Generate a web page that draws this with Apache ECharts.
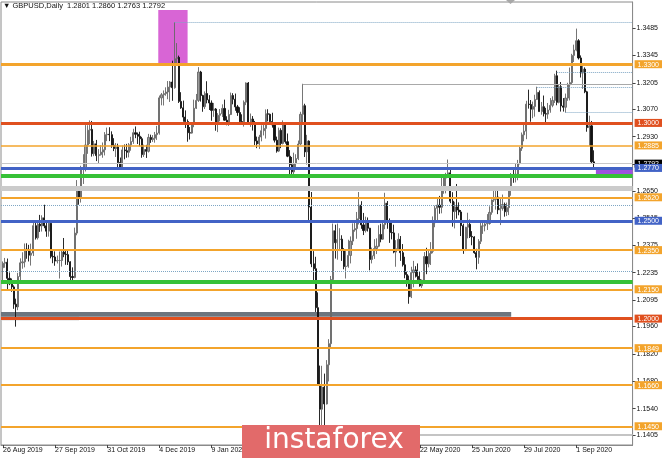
<!DOCTYPE html>
<html>
<head>
<meta charset="utf-8">
<script src="https://cdn.jsdelivr.net/npm/echarts@6/dist/echarts.min.js"></script>
<style>
html,body{margin:0;padding:0;background:#fff;}
#chart{width:665px;height:458px;}
</style>
</head>
<body>
<div id="chart"></div>
<script>
// ---- DATA ----
// Daily GBPUSD bars [open, high, low, close], one row per trading day from 26 Aug 2019 to 11 Sep 2020
const candles = [
// Aug 26-30 2019
[1.2260,1.2292,1.2194,1.2283],[1.2283,1.2310,1.2260,1.2288],[1.2288,1.2307,1.2150,1.2206],[1.2206,1.2236,1.2171,1.2178],[1.2178,1.2205,1.2137,1.2162],
// Sep 2-6
[1.2162,1.2170,1.2050,1.2074],[1.2074,1.2102,1.1959,1.2060],[1.2060,1.2234,1.2043,1.2215],[1.2215,1.2308,1.2195,1.2285],[1.2285,1.2339,1.2255,1.2290],
// Sep 9-13
[1.2290,1.2384,1.2262,1.2355],[1.2355,1.2385,1.2306,1.2353],[1.2353,1.2377,1.2292,1.2324],[1.2324,1.2383,1.2271,1.2335],[1.2335,1.2499,1.2320,1.2475],
// Sep 16-20
[1.2475,1.2496,1.2404,1.2413],[1.2413,1.2502,1.2404,1.2483],[1.2483,1.2530,1.2443,1.2474],[1.2474,1.2528,1.2445,1.2515],[1.2515,1.2582,1.2462,1.2474],
// Sep 23-27
[1.2474,1.2496,1.2418,1.2447],[1.2447,1.2499,1.2419,1.2487],[1.2487,1.2498,1.2308,1.2318],[1.2318,1.2349,1.2283,1.2315],[1.2315,1.2344,1.2270,1.2294],
// Sep 30 - Oct 4
[1.2294,1.2322,1.2282,1.2297],[1.2297,1.2343,1.2205,1.2297],[1.2297,1.2352,1.2266,1.2340],[1.2340,1.2412,1.2314,1.2329],[1.2329,1.2348,1.2275,1.2327],
// Oct 7-11
[1.2327,1.2346,1.2274,1.2290],[1.2290,1.2293,1.2195,1.2215],[1.2215,1.2262,1.2196,1.2210],[1.2210,1.2465,1.2206,1.2437],[1.2437,1.2708,1.2426,1.2668],
// Oct 14-18
[1.2668,1.2674,1.2582,1.2615],[1.2615,1.2781,1.2593,1.2767],[1.2767,1.2840,1.2688,1.2770],[1.2770,1.2989,1.2752,1.2887],[1.2887,1.2988,1.2842,1.2963],
// Oct 21-25
[1.2963,1.3013,1.2892,1.2967],[1.2967,1.3010,1.2828,1.2843],[1.2843,1.2908,1.2830,1.2893],[1.2893,1.2913,1.2805,1.2833],[1.2833,1.2866,1.2795,1.2838],
// Oct 28 - Nov 1
[1.2838,1.2887,1.2833,1.2851],[1.2851,1.2900,1.2822,1.2863],[1.2863,1.2953,1.2834,1.2940],[1.2940,1.2976,1.2907,1.2942],[1.2942,1.2978,1.2907,1.2940],
// Nov 4-8
[1.2940,1.2957,1.2873,1.2886],[1.2886,1.2922,1.2856,1.2869],[1.2869,1.2897,1.2826,1.2877],[1.2877,1.2894,1.2769,1.2798],[1.2798,1.2823,1.2768,1.2773],
// Nov 11-15
[1.2773,1.2885,1.2761,1.2862],[1.2862,1.2890,1.2814,1.2858],[1.2858,1.2893,1.2822,1.2850],[1.2850,1.2897,1.2824,1.2888],[1.2888,1.2929,1.2858,1.2905],
// Nov 18-22
[1.2905,1.2970,1.2893,1.2950],[1.2950,1.2982,1.2922,1.2942],[1.2942,1.2951,1.2892,1.2932],[1.2932,1.2955,1.2880,1.2919],[1.2919,1.2929,1.2822,1.2838],
// Nov 25-29
[1.2838,1.2889,1.2826,1.2864],[1.2864,1.2888,1.2821,1.2855],[1.2855,1.2944,1.2849,1.2926],[1.2926,1.2940,1.2898,1.2915],[1.2915,1.2938,1.2903,1.2922],
// Dec 2-6
[1.2922,1.2954,1.2899,1.2940],[1.2940,1.2985,1.2913,1.2948],[1.2948,1.3140,1.2940,1.3128],[1.3128,1.3153,1.3090,1.3144],[1.3144,1.3166,1.3089,1.3150],
// Dec 9-13
[1.3150,1.3182,1.3139,1.3158],[1.3158,1.3214,1.3121,1.3183],[1.3183,1.3214,1.3107,1.3209],[1.3209,1.3318,1.3113,1.3180],[1.3180,1.3515,1.3175,1.3328],
// Dec 16-20
[1.3328,1.3408,1.3305,1.3335],[1.3335,1.3344,1.3102,1.3110],[1.3110,1.3157,1.3072,1.3077],[1.3077,1.3114,1.3006,1.3030],[1.3030,1.3064,1.2974,1.3007],
// Dec 23, 24, 26, 27
[1.3007,1.3018,1.2904,1.2950],[1.2950,1.2979,1.2915,1.2948],[1.2948,1.3000,1.2945,1.2993],[1.2993,1.3119,1.2978,1.3075],
// Dec 30, 31, Jan 2, 3
[1.3075,1.3148,1.3071,1.3115],[1.3115,1.3285,1.3107,1.3260],[1.3260,1.3266,1.3109,1.3140],[1.3140,1.3144,1.3057,1.3083],
// Jan 6-10 2020
[1.3083,1.3161,1.3071,1.3150],[1.3150,1.3213,1.3100,1.3118],[1.3118,1.3142,1.3066,1.3102],[1.3102,1.3115,1.3011,1.3064],[1.3064,1.3102,1.3031,1.3071],
// Jan 13-17
[1.3071,1.3076,1.2960,1.2992],[1.2992,1.3050,1.2953,1.3039],[1.3039,1.3071,1.3008,1.3047],[1.3047,1.3095,1.3030,1.3074],[1.3074,1.3119,1.3012,1.3014],
// Jan 20-24
[1.3014,1.3034,1.2988,1.3003],[1.3003,1.3067,1.2985,1.3043],[1.3043,1.3155,1.3040,1.3140],[1.3140,1.3152,1.3095,1.3121],[1.3121,1.3150,1.3062,1.3082],
// Jan 27-31
[1.3082,1.3092,1.3036,1.3053],[1.3053,1.3080,1.2993,1.3007],[1.3007,1.3044,1.2993,1.3006],[1.3006,1.3115,1.2981,1.3106],[1.3106,1.3207,1.3091,1.3204],
// Feb 3-7
[1.3204,1.3209,1.2990,1.3000],[1.3000,1.3048,1.2980,1.3020],[1.3020,1.3035,1.2961,1.2997],[1.2997,1.3010,1.2887,1.2908],[1.2908,1.2930,1.2871,1.2893],
// Feb 10-14
[1.2893,1.2939,1.2867,1.2928],[1.2928,1.2988,1.2906,1.2960],[1.2960,1.2992,1.2936,1.2972],[1.2972,1.3069,1.2920,1.3047],[1.3047,1.3070,1.3008,1.3044],
// Feb 17-21
[1.3044,1.3048,1.2994,1.3007],[1.3007,1.3052,1.2976,1.2990],[1.2990,1.2995,1.2900,1.2912],[1.2912,1.2930,1.2848,1.2856],[1.2856,1.2976,1.2851,1.2962],
// Feb 24-28
[1.2962,1.2973,1.2871,1.2895],[1.2895,1.3013,1.2890,1.2997],[1.2997,1.3000,1.2894,1.2904],[1.2904,1.2946,1.2825,1.2830],[1.2830,1.2861,1.2724,1.2786],
// Mar 2-6
[1.2786,1.2826,1.2725,1.2750],[1.2750,1.2848,1.2732,1.2792],[1.2792,1.2840,1.2765,1.2818],[1.2818,1.2910,1.2810,1.2892],[1.2892,1.3057,1.2886,1.3044],
// Mar 9-13
[1.3044,1.3200,1.3000,1.3088],[1.3088,1.3098,1.2826,1.2852],[1.2852,1.2939,1.2787,1.2907],[1.2907,1.2911,1.2502,1.2570],[1.2570,1.2647,1.2263,1.2280],
// Mar 16-20
[1.2280,1.2345,1.2194,1.2255],[1.2255,1.2316,1.2034,1.2056],[1.2056,1.2134,1.1657,1.1663],[1.1663,1.1760,1.1450,1.1537],[1.1537,1.1759,1.1409,1.1650],
// Mar 23-27
[1.1650,1.1719,1.1454,1.1564],[1.1564,1.1788,1.1561,1.1764],[1.1764,1.1895,1.1679,1.1872],[1.1872,1.2218,1.1853,1.2200],[1.2200,1.2486,1.2188,1.2449],
// Mar 30 - Apr 3
[1.2449,1.2480,1.2307,1.2388],[1.2388,1.2486,1.2301,1.2404],[1.2404,1.2462,1.2345,1.2406],[1.2406,1.2426,1.2295,1.2347],[1.2347,1.2360,1.2252,1.2266],
// Apr 6-10
[1.2266,1.2354,1.2205,1.2268],[1.2268,1.2403,1.2260,1.2323],[1.2323,1.2420,1.2282,1.2396],[1.2396,1.2487,1.2376,1.2453],[1.2453,1.2502,1.2444,1.2460],
// Apr 13-17
[1.2460,1.2545,1.2408,1.2510],[1.2510,1.2647,1.2481,1.2580],[1.2580,1.2600,1.2459,1.2479],[1.2479,1.2540,1.2427,1.2450],[1.2450,1.2521,1.2440,1.2493],
// Apr 20-24
[1.2493,1.2517,1.2445,1.2462],[1.2462,1.2464,1.2247,1.2302],[1.2302,1.2363,1.2282,1.2321],[1.2321,1.2406,1.2305,1.2358],[1.2358,1.2410,1.2330,1.2370],
// Apr 27 - May 1
[1.2370,1.2477,1.2365,1.2430],[1.2430,1.2485,1.2390,1.2406],[1.2406,1.2490,1.2402,1.2480],[1.2480,1.2643,1.2457,1.2590],[1.2590,1.2601,1.2459,1.2490],
// May 4-8
[1.2490,1.2512,1.2387,1.2440],[1.2440,1.2499,1.2405,1.2438],[1.2438,1.2480,1.2334,1.2340],[1.2340,1.2401,1.2265,1.2357],[1.2357,1.2436,1.2350,1.2405],
// May 11-15
[1.2405,1.2422,1.2295,1.2337],[1.2337,1.2381,1.2266,1.2275],[1.2275,1.2316,1.2206,1.2225],[1.2225,1.2240,1.2163,1.2196],[1.2196,1.2220,1.2076,1.2112],
// May 18-22
[1.2112,1.2265,1.2105,1.2235],[1.2235,1.2295,1.2160,1.2249],[1.2249,1.2268,1.2210,1.2216],[1.2216,1.2282,1.2177,1.2200],[1.2200,1.2241,1.2163,1.2168],
// May 25-29
[1.2168,1.2200,1.2157,1.2196],[1.2196,1.2340,1.2191,1.2317],[1.2317,1.2362,1.2227,1.2280],[1.2280,1.2352,1.2262,1.2333],[1.2333,1.2391,1.2274,1.2344],
// Jun 1-5
[1.2344,1.2522,1.2334,1.2490],[1.2490,1.2577,1.2467,1.2564],[1.2564,1.2613,1.2503,1.2580],[1.2580,1.2627,1.2536,1.2569],[1.2569,1.2727,1.2538,1.2664],
// Jun 8-12
[1.2664,1.2733,1.2638,1.2718],[1.2718,1.2745,1.2640,1.2733],[1.2733,1.2813,1.2729,1.2745],[1.2745,1.2763,1.2590,1.2600],[1.2600,1.2646,1.2470,1.2547],
// Jun 15-19
[1.2547,1.2597,1.2461,1.2571],[1.2571,1.2688,1.2511,1.2555],[1.2555,1.2594,1.2528,1.2545],[1.2545,1.2555,1.2422,1.2475],[1.2475,1.2485,1.2331,1.2352],
// Jun 22-26
[1.2352,1.2469,1.2345,1.2467],[1.2467,1.2541,1.2410,1.2482],[1.2482,1.2506,1.2412,1.2420],[1.2420,1.2447,1.2375,1.2417],[1.2417,1.2421,1.2331,1.2337],
// Jun 29 - Jul 3
[1.2337,1.2357,1.2252,1.2313],[1.2313,1.2406,1.2280,1.2395],[1.2395,1.2493,1.2381,1.2474],[1.2474,1.2503,1.2433,1.2474],[1.2474,1.2497,1.2446,1.2484],
// Jul 6-10
[1.2484,1.2534,1.2453,1.2486],[1.2486,1.2574,1.2480,1.2543],[1.2543,1.2609,1.2531,1.2606],[1.2606,1.2667,1.2596,1.2609],[1.2609,1.2653,1.2557,1.2621],
// Jul 13-17
[1.2621,1.2667,1.2534,1.2556],[1.2556,1.2614,1.2478,1.2563],[1.2563,1.2634,1.2552,1.2583],[1.2583,1.2593,1.2521,1.2546],[1.2546,1.2593,1.2524,1.2567],
// Jul 20-24
[1.2567,1.2670,1.2529,1.2666],[1.2666,1.2744,1.2628,1.2730],[1.2730,1.2769,1.2694,1.2727],[1.2727,1.2795,1.2696,1.2738],[1.2738,1.2811,1.2707,1.2793],
// Jul 27-31
[1.2793,1.2878,1.2788,1.2871],[1.2871,1.2951,1.2857,1.2939],[1.2939,1.2992,1.2906,1.2958],[1.2958,1.3113,1.2917,1.3096],[1.3096,1.3170,1.3073,1.3094],
// Aug 3-7
[1.3094,1.3117,1.3006,1.3070],[1.3070,1.3109,1.3024,1.3084],[1.3084,1.3144,1.3032,1.3120],[1.3120,1.3185,1.3117,1.3156],[1.3156,1.3166,1.3057,1.3058],
// Aug 10-14
[1.3058,1.3107,1.3042,1.3083],[1.3083,1.3140,1.3033,1.3047],[1.3047,1.3077,1.3004,1.3045],[1.3045,1.3102,1.3021,1.3066],[1.3066,1.3127,1.3052,1.3090],
// Aug 17-21
[1.3090,1.3136,1.3080,1.3115],[1.3115,1.3251,1.3102,1.3241],[1.3241,1.3267,1.3090,1.3105],[1.3105,1.3197,1.3100,1.3185],[1.3185,1.3209,1.3058,1.3087],
// Aug 24-28
[1.3087,1.3127,1.3058,1.3080],[1.3080,1.3150,1.3052,1.3127],[1.3127,1.3205,1.3113,1.3195],[1.3195,1.3283,1.3115,1.3206],[1.3206,1.3353,1.3194,1.3345],
// Aug 31 - Sep 4
[1.3345,1.3400,1.3311,1.3372],[1.3372,1.3482,1.3366,1.3420],[1.3420,1.3428,1.3324,1.3332],[1.3332,1.3345,1.3232,1.3255],[1.3255,1.3306,1.3174,1.3275],
// Sep 7-11
[1.3275,1.3284,1.3152,1.3159],[1.3159,1.3164,1.2955,1.2976],[1.2976,1.3037,1.2883,1.2985],[1.2985,1.3010,1.2790,1.2801],[1.2801,1.2860,1.2763,1.2792]
];

// Time-axis tick labels and the bar index they sit on
const timeLabels = ['26 Aug 2019','27 Sep 2019','31 Oct 2019','4 Dec 2019','9 Jan 2020','12 Feb 2020','17 Mar 2020','20 Apr 2020','22 May 2020','25 Jun 2020','29 Jul 2020','1 Sep 2020'];
const timeLabelBars = [0,24,48,72,96,120,144,168,192,216,240,264];

// Price-axis tick labels
const priceTicks = [1.3485,1.3345,1.3205,1.3070,1.2930,1.2790,1.2650,1.2515,1.2375,1.2235,1.2095,1.1960,1.1820,1.1680,1.1540,1.1405];

// Horizontal levels
const orangeThickLevels = [1.3300];
const orangeLevels = [1.2885,1.2620,1.2350,1.2150,1.1849,1.1660,1.1450];
const redLevels = [1.3000,1.2000];
const blueLevels = [1.2770,1.2500];
const greenLevels = [1.2729,1.2190];
const grayBandLevels = [1.2665];
const dottedLevels = [1.2580,1.2243];
const dottedFromBar = [[79,1.3515],[255,1.3260],[246,1.3184],[259,1.3056]];
const grayFromBar = [[138,1.3200]];
const grayWideFromBar = [[192,1.1405]];
const lastPrice = 1.2792;
const headerText = '\u25BC GBPUSD,Daily  1.2801 1.2860 1.2763 1.2792';

// Shaded zones [bar from, price top], [bar to, price bottom]
const darkBandZone = [[null,1.2034],[234,1.2010]];
const lightBoxZone = [[null,1.2032],[35,1.1990]];
const magentaZone = [[71.5,1.3577],[85,1.3300]];
const purpleZone = [[273,1.2770],[null,1.2735]];

// ---- CHART ----
const xMin = -0.917, xMax = 289.9;
const yMin = 1.13542, yMax = 1.36179;
const FONT = 'Liberation Sans, Arial, sans-serif';

const C = {
  orange: '#f3a42c', red: '#e0501f', blue: '#4263c6', green: '#36c136',
  grayBand: '#cbcbcb', dotted: '#7ea6c4', gray: '#a9a9a9', grayWide: '#c4c4c4',
  last: '#c8c8c8', dark: '#6c757e', light: 'rgba(205,205,205,0.75)',
  magenta: '#d865d5', purple: '#9d52df'
};

const seriesData = candles.map((r, i) => [i, r[0], r[3], r[2], r[1]]);

const lines = [];
const full = (v, style) => lines.push({ yAxis: v, lineStyle: style });
const seg = (x0, v, style) => lines.push([{ coord: [x0, v], lineStyle: style }, { coord: [xMax, v] }]);

grayBandLevels.forEach(v => full(v, { color: C.grayBand, width: 5, type: 'solid' }));
dottedLevels.forEach(v => full(v, { color: C.dotted, width: 1, type: 'dotted' }));
dottedFromBar.forEach(([x, v]) => seg(x, v, { color: C.dotted, width: 1, type: 'dotted' }));
grayFromBar.forEach(([x, v]) => seg(x, v, { color: C.gray, width: 1, type: 'solid' }));
grayWideFromBar.forEach(([x, v]) => seg(x, v, { color: C.grayWide, width: 2, type: 'solid' }));
full(lastPrice, { color: C.last, width: 1, type: 'solid' });
orangeThickLevels.forEach(v => full(v, { color: C.orange, width: 3, type: 'solid' }));
orangeLevels.forEach((v, i) => full(v, { color: C.orange, width: i === 0 ? 1.5 : 2, type: 'solid' }));
redLevels.forEach(v => full(v, { color: C.red, width: 3, type: 'solid' }));
blueLevels.forEach(v => full(v, { color: C.blue, width: 3, type: 'solid' }));
greenLevels.forEach(v => full(v, { color: C.green, width: 4, type: 'solid' }));

const zone = (z, color) => [
  { coord: [z[0][0] === null ? xMin : z[0][0], z[0][1]], itemStyle: { color: color } },
  { coord: [z[1][0] === null ? xMax : z[1][0], z[1][1]] }
];

const levelLabels = [].concat(orangeThickLevels, redLevels.slice(0,1), orangeLevels.slice(0,1), [lastPrice], blueLevels.slice(0,1),
  orangeLevels.slice(1,2), blueLevels.slice(1), orangeLevels.slice(2,4), redLevels.slice(1), orangeLevels.slice(4));
const levelKey = v => {
  const s = v.toFixed(4);
  if (redLevels.some(x => x.toFixed(4) === s)) return 'r';
  if (blueLevels.some(x => x.toFixed(4) === s)) return 'b';
  if (lastPrice.toFixed(4) === s) return 'k';
  return 'o';
};
const boxStyle = bg => ({ backgroundColor: bg, color: '#ffffff', fontSize: 7, fontFamily: FONT, padding: [1, 3, 0, 3], lineHeight: 7 });

const chart = echarts.init(document.getElementById('chart'), null, { renderer: 'canvas' });
chart.setOption({
  animation: false,
  backgroundColor: '#ffffff',
  grid: { left: 0, right: 31, top: 2, bottom: 13, show: true, borderColor: '#8a8a8a', borderWidth: 1, backgroundColor: 'transparent' },
  xAxis: {
    type: 'value', min: xMin, max: xMax,
    axisLine: { show: true, onZero: false, lineStyle: { color: '#8a8a8a', width: 1 } },
    axisTick: { show: true, customValues: timeLabelBars, length: 3, lineStyle: { color: '#444' } },
    axisLabel: {
      customValues: timeLabelBars, fontSize: 7, fontFamily: FONT, color: '#111', align: 'left', margin: 2,
      formatter: v => { const k = timeLabelBars.indexOf(Math.round(v)); return k >= 0 ? timeLabels[k] : ''; }
    },
    splitLine: { show: false }
  },
  yAxis: [{
    type: 'value', position: 'right', min: yMin, max: yMax,
    axisLine: { show: true, onZero: false, lineStyle: { color: '#8a8a8a', width: 1 } },
    axisTick: { show: true, customValues: priceTicks, length: 3, lineStyle: { color: '#444' } },
    axisLabel: { customValues: priceTicks, fontSize: 7, fontFamily: FONT, color: '#111', margin: 4, formatter: v => v.toFixed(4) },
    splitLine: { show: false }
  }, {
    type: 'value', position: 'right', min: yMin, max: yMax,
    axisLine: { show: false }, axisTick: { show: false }, splitLine: { show: false },
    axisLabel: {
      customValues: levelLabels, margin: 2,
      formatter: v => '{' + levelKey(v) + '|' + v.toFixed(4) + '}',
      rich: { o: boxStyle(C.orange), r: boxStyle(C.red), b: boxStyle(C.blue), k: boxStyle('#000000') }
    }
  }],
  series: [{
    type: 'candlestick',
    data: seriesData,
    encode: { x: 0, y: [1, 2, 3, 4] },
    barWidth: 1.6,
    itemStyle: { color: '#9c9c9c', borderColor: '#666666', color0: '#111111', borderColor0: '#111111', borderWidth: 0.9 },
    silent: true,
    markArea: {
      silent: true,
      data: [zone(magentaZone, C.magenta), zone(purpleZone, C.purple), zone(lightBoxZone, C.light), zone(darkBandZone, C.dark)]
    },
    markLine: {
      silent: true, symbol: ['none', 'none'], label: { show: false }, animation: false, precision: 6,
      data: lines
    }
  }],
  graphic: [
    { type: 'text', left: 3, top: 2, style: { text: headerText, font: '7.5px ' + FONT, fill: '#111' } },
    { type: 'polygon', shape: { points: [[506, 0], [515, 0], [510.5, 4]] }, style: { fill: '#a8a8a8' } },
    { type: 'rect', shape: { x: 242, y: 425, width: 178, height: 33 }, style: { fill: '#e26a6a' }, z: 100 },
    { type: 'text', x: 334, y: 441, z: 101, style: { text: 'instaforex', font: '28px "DejaVu Sans", sans-serif', fill: '#ffffff', align: 'center', verticalAlign: 'middle' } }
  ]
});
</script>
</body>
</html>
